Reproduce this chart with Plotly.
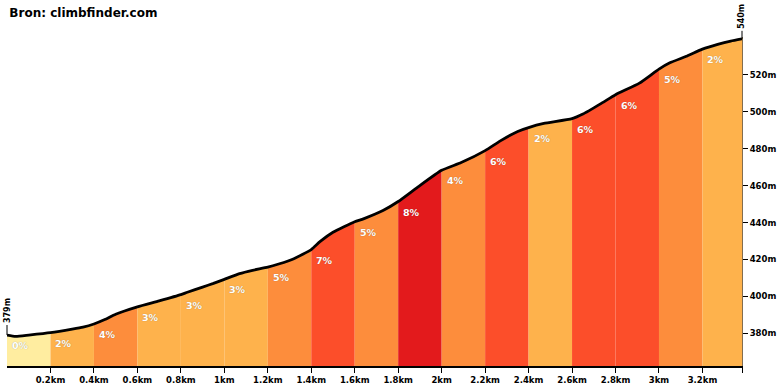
import plotly.graph_objects as go

# Elevation profile (distance in km, elevation in m)
profile_km = [0.0, 0.04, 0.1, 0.2, 0.3, 0.35, 0.4, 0.45, 0.5, 0.6, 0.7, 0.8, 0.83, 0.9, 0.95,
              1.0, 1.07, 1.13, 1.2, 1.25, 1.32, 1.4, 1.44, 1.5, 1.6, 1.64, 1.73, 1.8, 1.89,
              2.0, 2.09, 2.2, 2.27, 2.35, 2.4, 2.47, 2.6, 2.65, 2.74, 2.8, 2.91, 3.0, 3.05,
              3.13, 3.2, 3.27, 3.33, 3.382]
profile_m = [379.0, 378.3, 379.0, 380.3, 382.2, 383.3, 385.0, 387.4, 390.3, 394.3, 397.5, 400.9, 402.2,
             405.0, 407.0, 409.2, 412.3, 414.1, 415.8, 417.5, 420.4, 425.3, 429.6, 434.7, 440.4,
             442.0, 446.5, 451.4, 459.2, 468.3, 472.5, 479.0, 484.3, 489.4, 491.5, 493.7, 496.3,
             498.8, 505.0, 509.3, 515.6, 523.2, 526.6, 530.3, 534.0, 536.6, 538.4, 539.6]

# Gradient segments
seg_start_km = [0.0, 0.2, 0.4, 0.6, 0.8, 1.0, 1.2, 1.4, 1.6, 1.8, 2.0, 2.2, 2.4, 2.6, 2.8, 3.0, 3.2]
seg_grade = [0, 2, 4, 3, 3, 3, 5, 7, 5, 8, 4, 6, 2, 6, 6, 5, 2]

# Axis ticks
x_tickvals = [0.2, 0.4, 0.6, 0.8, 1.0, 1.2, 1.4, 1.6, 1.8, 2.0, 2.2, 2.4, 2.6, 2.8, 3.0, 3.2]
x_ticktext = ["0.2km", "0.4km", "0.6km", "0.8km", "1km", "1.2km", "1.4km", "1.6km", "1.8km",
              "2km", "2.2km", "2.4km", "2.6km", "2.8km", "3km", "3.2km"]
y_tickvals = [380, 400, 420, 440, 460, 480, 500, 520]
y_ticktext = ["380m", "400m", "420m", "440m", "460m", "480m", "500m", "520m"]

title_text = "Bron: climbfinder.com"


def grade_color(g):
    if g < 1:
        return "#ffeda0"
    if g < 4:
        return "#feb24c"
    if g < 6:
        return "#fd8d3c"
    if g < 8:
        return "#fc4e2a"
    return "#e31a1c"


FONT = "DejaVu Sans"
total_km = profile_km[-1]
fig = go.Figure()

seg_end_km = seg_start_km[1:] + [total_km]
for a, b, g in zip(seg_start_km, seg_end_km, seg_grade):
    xs = [k for k in profile_km if a - 1e-9 <= k <= b + 1e-9]
    ys = [profile_m[profile_km.index(k)] for k in xs]
    fig.add_trace(go.Scatter(x=xs, y=ys, mode="none", fill="tozeroy",
                             fillcolor=grade_color(g), hoverinfo="skip", showlegend=False))

fig.add_trace(go.Scatter(x=profile_km, y=profile_m, mode="lines",
                         line=dict(color="#000000", width=2.8, shape="spline", smoothing=0.5),
                         hoverinfo="skip", showlegend=False))

annotations = []
for a, g in zip(seg_start_km, seg_grade):
    y0 = profile_m[profile_km.index(a)]
    annotations.append(dict(x=a, y=y0, xref="x", yref="y", text=f"<b>{g}%</b>",
                            showarrow=False, xanchor="left", yanchor="top",
                            xshift=3, yshift=-3,
                            font=dict(family=FONT, size=9.5, color="#ffffff",
                                      shadow="0px 0px 1px rgba(0,0,0,0.35)")))

# start / end elevation labels
annotations.append(dict(x=profile_km[0], y=profile_m[0], xref="x", yref="y",
                        text=f"<b>{round(profile_m[0])}m</b>", textangle=-90,
                        showarrow=True, arrowhead=0, arrowwidth=1, arrowcolor="#000",
                        ax=0, ay=-24, font=dict(family=FONT, size=8, color="#000")))
annotations.append(dict(x=profile_km[-1], y=profile_m[-1], xref="x", yref="y",
                        text=f"<b>{round(profile_m[-1])}m</b>", textangle=-90,
                        showarrow=True, arrowhead=0, arrowwidth=1, arrowcolor="#000",
                        ax=0, ay=-22, font=dict(family=FONT, size=8, color="#000")))

fig.update_layout(
    width=780, height=390,
    margin=dict(l=7, r=38, t=37, b=24),
    paper_bgcolor="#ffffff", plot_bgcolor="#ffffff",
    title=dict(text=f"<b>{title_text}</b>", x=0.012, xref="container", xanchor="left",
               y=0.978, yref="container", yanchor="top",
               font=dict(family=FONT, size=12, color="#000")),
    annotations=annotations,
    xaxis=dict(range=[0, total_km], tickvals=x_tickvals + [total_km], ticktext=x_ticktext + [""],
               showgrid=False, zeroline=False, showline=True, linecolor="#000", linewidth=1.5,
               ticks="outside", ticklen=5, tickwidth=1.2, tickcolor="#000", automargin=False,
               tickfont=dict(family=FONT, size=8.5, color="#000", weight="bold")),
    yaxis=dict(range=[362.2, 540.6], side="right", tickvals=y_tickvals, ticktext=y_ticktext,
               showgrid=False, zeroline=False, showline=True, linecolor="rgba(90,60,20,0.75)",
               linewidth=1, ticks="outside", ticklen=5, tickwidth=1.2, tickcolor="#000",
               automargin=False,
               tickfont=dict(family=FONT, size=8.5, color="#000", weight="bold")),
)

fig.write_html("out.html", config={"displayModeBar": False},
               post_script="document.body.style.margin='0';")
